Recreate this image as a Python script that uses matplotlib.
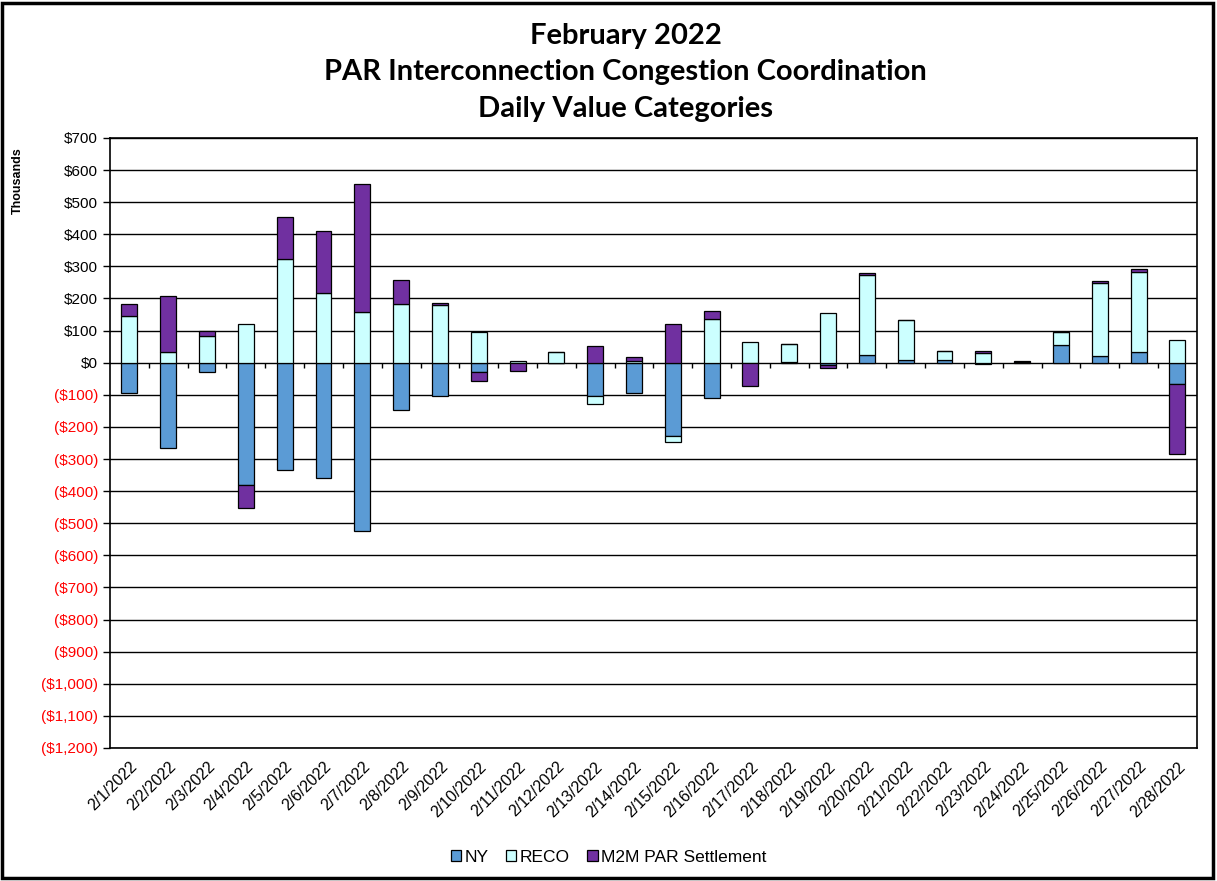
import matplotlib.pyplot as plt
from matplotlib.patches import Rectangle
import numpy as np

days = ["2/%d/2022" % d for d in range(1, 29)]

# values in $ thousands
ny = [-93, -267, -30, -381, -333, -358, -524, -146, -104, -28,
      0, 0, -103, -93, -228, -109, -2, 3, -6, 25,
      9, 8, -5, 2, 54, 20, 34, -67]
reco = [146, 33, 82, 121, 324, 216, 157, 182, 181, 95,
        4, 33, -27, 5, -19, 136, 66, 55, 154, 247,
        123, 29, 31, 0, 42, 228, 247, 70]
m2m = [36, 175, 17, -73, 129, 195, 400, 75, 5, -30,
       -25, 0, 53, 12, 120, 26, -72, 0, -10, 6,
       0, 0, 6, 3, 0, 6, 10, -216]

series = [("NY", ny, "#5B9BD5"),
          ("RECO", reco, "#CCFFFF"),
          ("M2M PAR Settlement", m2m, "#7030A0")]

fig = plt.figure(figsize=(12.17, 8.81), dpi=100)
ax = fig.add_axes([0.0904, 0.151, 0.893, 0.6924])

x = np.arange(len(days))
pos = np.zeros(len(days))
neg = np.zeros(len(days))
for name, vals, col in series:
    v = np.array(vals, dtype=float)
    bottom = np.where(v >= 0, pos, neg)
    ax.bar(x, v, 0.41, bottom=bottom, color=col, edgecolor="black",
           linewidth=0.9, label=name, zorder=3)
    pos = pos + np.where(v > 0, v, 0)
    neg = neg + np.where(v < 0, v, 0)

ax.set_xlim(-0.5, len(days) - 0.5)
ax.set_ylim(-1200, 700)
yt = np.arange(-1200, 701, 100)
ax.set_yticks(yt)
labels = []
for t in yt:
    if t < 0:
        labels.append("(${:,})".format(-t))
    else:
        labels.append("${:,}".format(t))
ax.set_yticklabels(labels, fontsize=11, family=["Liberation Sans", "DejaVu Sans"])
for lab, t in zip(ax.get_yticklabels(), yt):
    if t < 0:
        lab.set_color("red")
ax.tick_params(axis="y", direction="out", length=5, width=1)
ax.grid(axis="y", color="black", linewidth=1, zorder=0)
ax.set_axisbelow(True)

ax.set_xticks(x)
ax.set_xticklabels(days, rotation=45, ha="right", rotation_mode="anchor",
                   fontsize=11.5, family=["Liberation Sans Narrow", "Liberation Sans", "DejaVu Sans"])
ax.tick_params(axis="x", length=0, pad=8)
# small category separators on the zero line
ax.vlines(x[:-1] + 0.5, -18, 0, color="black", linewidth=1, zorder=2)

for s in ax.spines.values():
    s.set_color("black")
    s.set_linewidth(1.2)

ax.text(-0.085, 0.93, "Thousands", transform=ax.transAxes, rotation=90,
        fontsize=9, fontweight="bold", ha="center", va="center",
        family=["Liberation Sans", "DejaVu Sans"])

fig.text(0.514, 0.918, "February 2022\nPAR Interconnection Congestion Coordination\nDaily Value Categories",
         ha="center", va="center", fontsize=21, fontweight="bold",
         linespacing=1.5, family=["Lato", "DejaVu Sans"])

leg = fig.legend(loc="center", bbox_to_anchor=(0.5, 0.027), ncol=3, frameon=False,
                 handlelength=0.6, handleheight=0.6, handletextpad=0.2,
                 columnspacing=1.0, prop={"family": ["Liberation Sans Narrow", "Liberation Sans", "DejaVu Sans"], "size": 12.5})

fig.patches.append(Rectangle((0.002, 0.003), 0.995, 0.994, transform=fig.transFigure,
                             fill=False, edgecolor="black", linewidth=2.5))

fig.savefig("out.png", dpi=100)
